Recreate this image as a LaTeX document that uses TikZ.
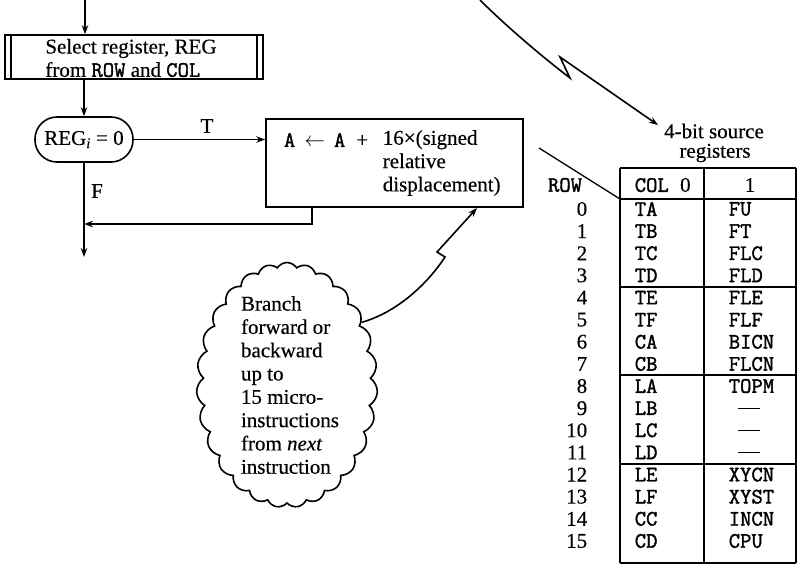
\documentclass[tikz,border=0pt]{standalone}
\usepackage{fontspec}
\setmainfont{Liberation Serif}[FakeBold=0.4]
\setmonofont{Latin Modern Mono}[FakeBold=1.6]
\usetikzlibrary{arrows.meta,shapes.symbols}
\newcommand\fs{\fontsize{21pt}{23.3pt}\selectfont}
\newcommand\tx[1]{{\fontsize{22pt}{23.3pt}\selectfont\ttfamily #1}}
\begin{document}
\begin{tikzpicture}[x=1pt,y=-1pt, line width=1.6pt,
  arr/.style={-{Stealth[length=9pt,width=6.5pt]}},
  txt/.style={inner sep=0pt, font=\fs},
  mono/.style={inner sep=0pt, font=\fontsize{22pt}{22pt}\selectfont\ttfamily},
  tline/.style={line width=1.3pt}]
\useasboundingbox (0,0) rectangle (798,566);

% select box
\node[draw, minimum width=258pt, minimum height=44pt, inner sep=0pt] (sel) at (134,57) {};
\node[txt, align=left] (seltxt) at (131,58) {Select register, REG\\from \tx{ROW} and \tx{COL}};
\draw ([xshift=7pt]sel.north west) -- ([xshift=7pt]sel.south west);
\draw ([xshift=-7pt]sel.north east) -- ([xshift=-7pt]sel.south east);

\coordinate (topsrc) at (85,0);
\draw[arr] (topsrc) -- (topsrc |- sel.north);

% decision
\node[draw, rounded corners=22pt, minimum width=98pt, minimum height=45pt, inner sep=0pt, font=\fs] (dec) at (84,139.5) {REG\textsubscript{\textit{i}} = 0};
\draw[arr] (sel.south -| dec.north) -- (dec.north);

% update box
\node[draw, minimum width=257pt, minimum height=88pt, inner sep=0pt] (upd) at (394.5,163) {};
\node[txt, anchor=east] (updA) at (369,140) {\tx{A}\hspace{9pt}$\leftarrow$\hspace{9pt}\tx{A}\hspace{11pt}+};
\node[txt, align=left, anchor=west] (updB) at (382,163) {16×(signed\\relative\\displacement)};

\draw[arr] (dec.east) -- (upd.west |- dec.east);
\node[txt] (tlab) at (207,126) {T};
\node[txt] (flab) at (97,191) {F};
\coordinate (fend) at (85,257);
\draw[arr] (dec.south) -- (dec.south |- fend);
\coordinate (retx) at (312,224);
\draw[arr] (upd.south -| retx) -- (retx) -- (retx -| dec.south);

% cloud
\node[cloud, draw, cloud puffs=27, cloud puff arc=115, cloud ignores aspect,
      minimum width=181pt, minimum height=245pt, inner sep=0pt] (cloud1) at (287,385) {};
\node[txt, align=left] (cloudtxt) at (290,385) {Branch\\forward or\\backward\\up to\\15 micro-\\instructions\\from \textit{next}\\instruction};

% lightning connectors
\coordinate (tipA) at (477,208);
\draw[arr] (cloud1.40) .. controls (398,312) and (428,283) .. (445,257) -- (437,252) -- (tipA);
\coordinate (topB) at (480,0);
\coordinate (tipB) at (658,125);
\draw[arr] (topB) .. controls (505,25) and (540,55) .. (570,78) -- (560,57) -- (tipB);

% table
\node[txt] (lbl1) at (714,131) {4-bit source};
\node[txt] (lbl2) at (715,153) {registers};
\draw[tline] (620,168) -- (796,168);
\draw[tline] (620,168) -- (620,563);
\draw[tline] (704,168) -- (704,563);
\draw[tline] (796,168) -- (796,563);
\foreach \yy in {199,287,375,464,563} \draw[tline] (620,\yy) -- (796,\yy);
\draw[tline] (539,148) -- (620,199);

\node[mono] (hrow) at (565,185) {ROW};
\node[mono, anchor=west] (hcol) at (634,185) {COL {\fontsize{21pt}{22pt}\rmfamily 0}};
\node[txt] (hone) at (750,185) {1};

\foreach \i/\a in {0/TA,1/TB,2/TC,3/TD,4/TE,5/TF,6/CA,7/CB,8/LA,9/LB,10/LC,11/LD,12/LE,13/LF,14/CC,15/CD}{
  \node[txt, anchor=east] (rn\i) at (588,{209+22.13*\i}) {\i};
  \node[mono, anchor=west] (ca\i) at (634,{209+22.13*\i}) {\a};
}
\foreach \i/\b in {0/FU,1/FT,2/FLC,3/FLD,4/FLE,5/FLF,6/BICN,7/FLCN,8/TOPM,12/XYCN,13/XYST,14/INCN,15/CPU}{
  \node[mono, anchor=west] (cb\i) at (728,{209+22.13*\i}) {\b};
}
\foreach \i in {9,10,11}{
  \node[inner sep=0pt] (cb\i) at (749,{209+22.13*\i}) {\rule{22pt}{1.3pt}};
}
\end{tikzpicture}
\end{document}
